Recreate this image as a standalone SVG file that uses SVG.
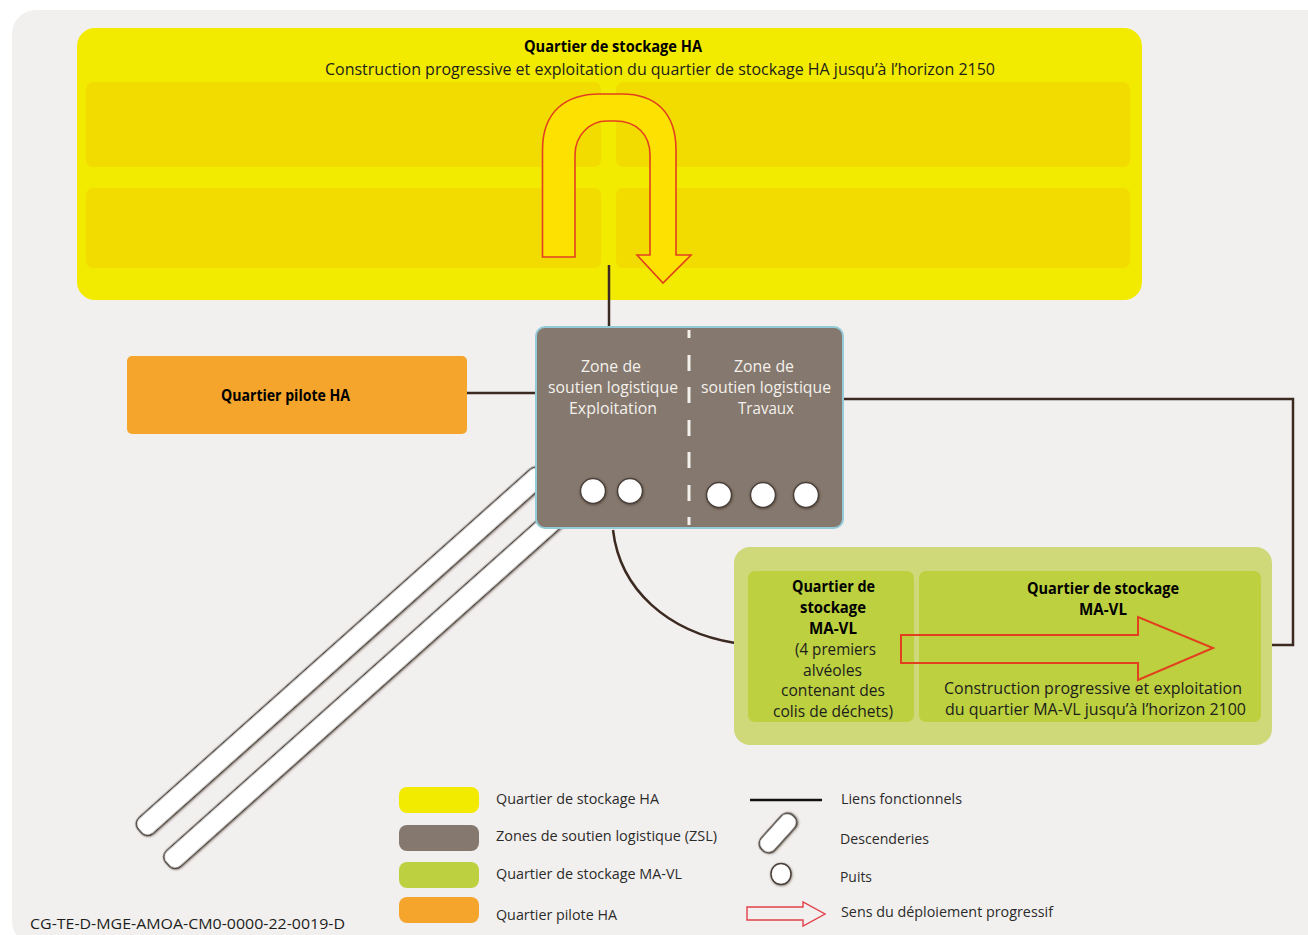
<svg xmlns="http://www.w3.org/2000/svg" width="1308" height="935" viewBox="0 0 1308 935">
<defs>
<filter id="sh" x="-20%" y="-20%" width="140%" height="140%"><feDropShadow dx="0.5" dy="0.8" stdDeviation="0.8" flood-color="#3c2a21" flood-opacity="0.6"/></filter>
</defs>
<style>
text{font-family:"Open Sans","Noto Sans","Liberation Sans",sans-serif;font-size:16px;fill:#1d1d1b}
.b{font-weight:700;fill:#000}
.w{fill:#f4f1ec;font-weight:500}
.l{font-size:15px;fill:#2b2b2a}
.lnk{fill:none;stroke:#3c2a21;stroke-width:2.5}
.arr{stroke:#e2401f;stroke-width:1.6;stroke-linejoin:miter}
.desc{fill:#fff;stroke:#4a403a;stroke-width:1.6;filter:url(#sh)}
.puits{fill:#fff;stroke:#4a403a;stroke-width:1.5;filter:url(#sh)}
</style>
<rect width="1308" height="935" fill="#fff"/>
<rect id="panel" x="12" y="10" width="1330" height="935" rx="24" fill="#f2f0ef"/>

<g id="descenderies">
<rect class="desc" x="0" y="-10.5" width="540" height="21" rx="8" transform="translate(140,831) rotate(-41.7)"/>
<rect class="desc" x="0" y="-10.5" width="540" height="21" rx="8" transform="translate(167.500,864) rotate(-41.7)"/>
</g>

<g id="connectors">
<path class="lnk" d="M609 265V327"/>
<path class="lnk" d="M467 393H536"/>
<path class="lnk" d="M843 399H1293V645H1272"/>
<path class="lnk" d="M613 530C620 590 668 632 735 643"/>
</g>

<g id="quartier-ha">
<rect x="77" y="28" width="1065" height="272" rx="18" fill="#f2eb00"/>
<rect x="86" y="82" width="515" height="85" rx="7" fill="#f2dc00"/>
<rect x="616" y="82" width="514" height="85" rx="7" fill="#f2dc00"/>
<rect x="86" y="188" width="515" height="80" rx="7" fill="#f2dc00"/>
<rect x="616" y="188" width="514" height="80" rx="7" fill="#f2dc00"/>
<path d="M609 265V300" stroke="#3c2a21" stroke-width="2.5"/>
<text class="b" x="524" y="52" textLength="178" lengthAdjust="spacingAndGlyphs">Quartier de stockage HA</text>
<text x="325" y="75" textLength="670" lengthAdjust="spacingAndGlyphs">Construction progressive et exploitation du quartier de stockage HA jusqu’à l’horizon 2150</text>
<path class="arr" fill="#fde100" d="M542.5 257V150C542.5 112 565 94 600 94H622C655 94 676 112 676 150V255H691L663 283L637 255H650V155C650 135 637 121 615 121H607C590 121 575 135 575 155V257Z"/>
</g>

<g id="quartier-pilote">
<rect x="127" y="356" width="340" height="78" rx="5" fill="#f5a42c"/>
<text class="b" x="221" y="401" textLength="129" lengthAdjust="spacingAndGlyphs">Quartier pilote HA</text>
</g>

<g id="zsl">
<rect x="536" y="327" width="307" height="201" rx="9" fill="#85786e" stroke="#93cbd8" stroke-width="2"/>
<path d="M689 330V528" stroke="#f4f1ec" stroke-width="3" stroke-dasharray="8 17 16 16 16 17 16 16 16 17 16 16"/>
<text class="w" x="581" y="372" textLength="60" lengthAdjust="spacingAndGlyphs">Zone de</text>
<text class="w" x="548" y="393" textLength="130" lengthAdjust="spacingAndGlyphs">soutien logistique</text>
<text class="w" x="569" y="414" textLength="88" lengthAdjust="spacingAndGlyphs">Exploitation</text>
<text class="w" x="734" y="372" textLength="60" lengthAdjust="spacingAndGlyphs">Zone de</text>
<text class="w" x="701" y="393" textLength="130" lengthAdjust="spacingAndGlyphs">soutien logistique</text>
<text class="w" x="738" y="414" textLength="56" lengthAdjust="spacingAndGlyphs">Travaux</text>
<circle class="puits" cx="593" cy="491" r="12.5"/>
<circle class="puits" cx="630" cy="491" r="12.5"/>
<circle class="puits" cx="719" cy="495" r="12.5"/>
<circle class="puits" cx="763" cy="495" r="12.5"/>
<circle class="puits" cx="806" cy="495" r="12.5"/>
</g>

<g id="quartier-mavl">
<rect x="734" y="547" width="538" height="198" rx="16" fill="#cfd97a"/>
<rect x="748" y="571" width="166" height="151" rx="7" fill="#bcd040"/>
<rect x="919" y="571" width="342" height="151" rx="7" fill="#bcd040"/>
<text class="b" x="792" y="592" textLength="83" lengthAdjust="spacingAndGlyphs">Quartier de</text>
<text class="b" x="800" y="613" textLength="66" lengthAdjust="spacingAndGlyphs">stockage</text>
<text class="b" x="809" y="634" textLength="48" lengthAdjust="spacingAndGlyphs">MA-VL</text>
<text x="795" y="655" textLength="81" lengthAdjust="spacingAndGlyphs">(4 premiers</text>
<text x="803" y="676" textLength="59" lengthAdjust="spacingAndGlyphs">alvéoles</text>
<text x="781" y="696" textLength="104" lengthAdjust="spacingAndGlyphs">contenant des</text>
<text x="773" y="717" textLength="120" lengthAdjust="spacingAndGlyphs">colis de déchets)</text>
<text class="b" x="1027" y="594" textLength="152" lengthAdjust="spacingAndGlyphs">Quartier de stockage</text>
<text class="b" x="1079" y="615" textLength="48" lengthAdjust="spacingAndGlyphs">MA-VL</text>
<text x="944" y="694" textLength="298" lengthAdjust="spacingAndGlyphs">Construction progressive et exploitation</text>
<text x="945" y="715" textLength="301" lengthAdjust="spacingAndGlyphs">du quartier MA-VL jusqu’à l’horizon 2100</text>
<path class="arr" fill="none" style="stroke-width:2" d="M901 635H1138V617L1213 648L1138 680V663H901Z"/>
</g>

<g id="legende">
<rect x="399" y="787" width="80" height="26" rx="8" fill="#f2eb00"/>
<rect x="399" y="825" width="80" height="26" rx="8" fill="#85786e"/>
<rect x="399" y="862" width="80" height="26" rx="8" fill="#bcd040"/>
<rect x="399" y="897" width="80" height="26" rx="8" fill="#f5a42c"/>
<text class="l" x="496" y="804" textLength="163" lengthAdjust="spacingAndGlyphs">Quartier de stockage HA</text>
<text class="l" x="496" y="841" textLength="221" lengthAdjust="spacingAndGlyphs">Zones de soutien logistique (ZSL)</text>
<text class="l" x="496" y="879" textLength="186" lengthAdjust="spacingAndGlyphs">Quartier de stockage MA-VL</text>
<text class="l" x="496" y="920" textLength="121" lengthAdjust="spacingAndGlyphs">Quartier pilote HA</text>
<path d="M750 800H822" stroke="#111" stroke-width="2.5"/>
<rect class="desc" x="-23" y="-9" width="46" height="18" rx="8" transform="translate(778,833) rotate(-48)"/>
<ellipse class="puits" cx="781" cy="874" rx="10" ry="10.500"/>
<path d="M747 907H803V902L825 914L803 926V920H747Z" fill="none" stroke="#e2404a" stroke-width="1.4"/>
<text class="l" x="841" y="804" textLength="121" lengthAdjust="spacingAndGlyphs">Liens fonctionnels</text>
<text class="l" x="840" y="844" textLength="89" lengthAdjust="spacingAndGlyphs">Descenderies</text>
<text class="l" x="840" y="882" textLength="32" lengthAdjust="spacingAndGlyphs">Puits</text>
<text class="l" x="841" y="917" textLength="212" lengthAdjust="spacingAndGlyphs">Sens du déploiement progressif</text>
</g>

<text id="ref" x="30" y="929" textLength="315" lengthAdjust="spacingAndGlyphs" style="font-size:15px">CG-TE-D-MGE-AMOA-CM0-0000-22-0019-D</text>
</svg>
